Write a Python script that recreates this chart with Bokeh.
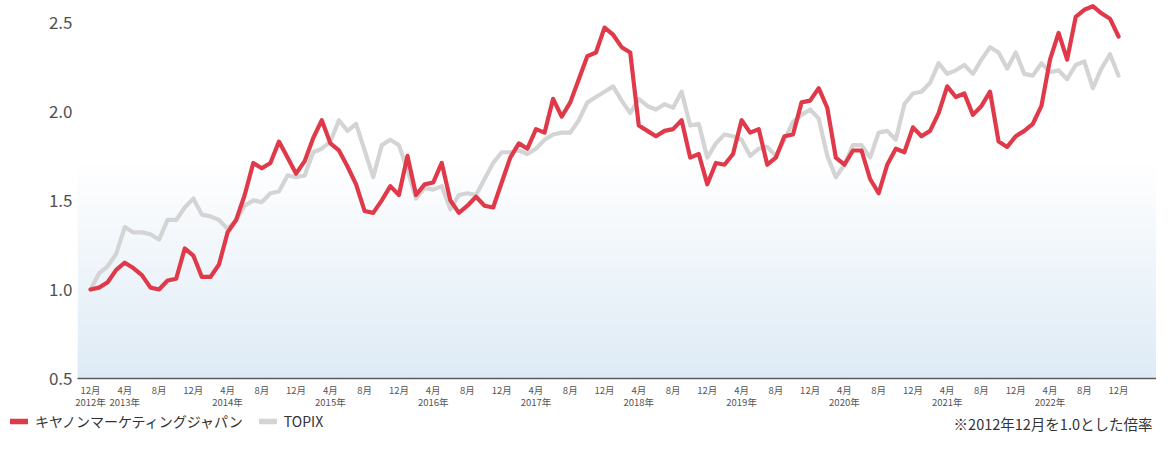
import numpy as np
from bokeh.plotting import figure
from bokeh.layouts import column
from bokeh.models import Range1d, FixedTicker, PrintfTickFormatter, Label, Legend, LegendItem
from bokeh.embed import file_html
from bokeh.resources import INLINE

# ---- data (monthly, Dec 2012 = 1.0) ----
months = list(range(121))  # 0 = 2012-12 ... 120 = 2022-12

canon = [1.00, 1.01, 1.04, 1.11, 1.15, 1.12, 1.08, 1.01, 1.00, 1.05,
         1.06, 1.23, 1.19, 1.07, 1.07, 1.14, 1.32, 1.39, 1.53, 1.71,
         1.68, 1.71, 1.83, 1.74, 1.65, 1.72, 1.85, 1.95, 1.82, 1.78,
         1.69, 1.59, 1.44, 1.43, 1.50, 1.58, 1.53, 1.75, 1.53, 1.59,
         1.60, 1.71, 1.50, 1.43, 1.47, 1.52, 1.47, 1.46, 1.60, 1.74,
         1.82, 1.79, 1.90, 1.88, 2.07, 1.97, 2.05, 2.18, 2.31, 2.33,
         2.47, 2.43, 2.36, 2.33, 1.92, 1.89, 1.86, 1.89, 1.90, 1.95,
         1.74, 1.76, 1.59, 1.71, 1.70, 1.76, 1.95, 1.88, 1.90, 1.70,
         1.74, 1.86, 1.87, 2.05, 2.06, 2.13, 2.02, 1.74, 1.70, 1.78,
         1.78, 1.62, 1.54, 1.70, 1.79, 1.77, 1.91, 1.86, 1.89, 1.99,
         2.14, 2.08, 2.10, 1.98, 2.03, 2.11, 1.83, 1.80, 1.86, 1.89,
         1.93, 2.03, 2.29, 2.44, 2.29, 2.53, 2.57, 2.59, 2.55, 2.52,
         2.42]

topix = [1.00, 1.09, 1.13, 1.20, 1.35, 1.32, 1.32, 1.31, 1.28, 1.39,
         1.39, 1.46, 1.51, 1.42, 1.41, 1.39, 1.34, 1.39, 1.47, 1.50,
         1.49, 1.54, 1.55, 1.64, 1.63, 1.64, 1.77, 1.79, 1.83, 1.95,
         1.89, 1.93, 1.78, 1.63, 1.81, 1.84, 1.81, 1.67, 1.51, 1.57,
         1.56, 1.58, 1.45, 1.53, 1.54, 1.53, 1.62, 1.71, 1.77, 1.77,
         1.78, 1.76, 1.79, 1.84, 1.87, 1.88, 1.88, 1.95, 2.05, 2.08,
         2.11, 2.14, 2.06, 1.99, 2.07, 2.03, 2.01, 2.04, 2.02, 2.11,
         1.92, 1.93, 1.74, 1.82, 1.87, 1.86, 1.84, 1.75, 1.79, 1.80,
         1.75, 1.84, 1.94, 1.98, 2.01, 1.96, 1.75, 1.63, 1.70, 1.81,
         1.81, 1.74, 1.88, 1.89, 1.84, 2.04, 2.10, 2.11, 2.16, 2.27,
         2.21, 2.23, 2.26, 2.21, 2.29, 2.36, 2.33, 2.24, 2.33, 2.21,
         2.20, 2.27, 2.22, 2.23, 2.18, 2.26, 2.28, 2.13, 2.24, 2.32,
         2.20]

tick_months = list(range(0, 121, 4))
tick_labels = ["12月\n2012年", "4月\n2013年", "8月",
               "12月", "4月\n2014年", "8月",
               "12月", "4月\n2015年", "8月",
               "12月", "4月\n2016年", "8月",
               "12月", "4月\n2017年", "8月",
               "12月", "4月\n2018年", "8月",
               "12月", "4月\n2019年", "8月",
               "12月", "4月\n2020年", "8月",
               "12月", "4月\n2021年", "8月",
               "12月", "4月\n2022年", "8月",
               "12月"]
y_ticks = [0.5, 1.0, 1.5, 2.0, 2.5]

series_names = ["キヤノンマーケティングジャパン", "TOPIX"]
note_text = "※2012年12月を1.0とした倍率"

RED = "#e03a4a"
GRAY = "#d4d4d4"
FONT = "Noto Sans CJK JP"

W = 1156
X0, X1 = -1.517, 124.43
Y0, Y1 = 0.5, 2.622

p = figure(width=W, height=412, output_backend="svg", toolbar_location=None,
           x_range=Range1d(X0, X1), y_range=Range1d(Y0, Y1),
           min_border_left=77, min_border_right=0, min_border_top=0,
           min_border_bottom=30, background_fill_color="white",
           border_fill_color="white")
p.frame_align = False
p.outline_line_color = None
p.xgrid.visible = False
p.ygrid.visible = False

# background gradient (white at top -> light blue at bottom)
H = 400
vals = np.linspace(Y0, Y1, H)
t = np.clip((1.70 - vals) / (1.70 - Y0), 0, 1)
top = np.array([255, 255, 255])
bot = np.array([222, 235, 246])
cols = (top[None, :] * (1 - t[:, None]) + bot[None, :] * t[:, None]).astype(np.uint8)
img = np.empty((H, 1), dtype=np.uint32)
view = img.view(dtype=np.uint8).reshape((H, 1, 4))
view[:, 0, 0] = cols[:, 0]
view[:, 0, 1] = cols[:, 1]
view[:, 0, 2] = cols[:, 2]
view[:, 0, 3] = 255
p.image_rgba(image=[img], x=X0, y=Y0, dw=X1 - X0, dh=Y1 - Y0, level="image")

p.line(months, topix, line_color=GRAY, line_width=4.2,
       line_join="round", line_cap="round")
p.line(months, canon, line_color=RED, line_width=4.2,
       line_join="round", line_cap="round")

# y axis
ya = p.yaxis[0]
ya.ticker = FixedTicker(ticks=y_ticks)
ya.formatter = PrintfTickFormatter(format="%.1f")
ya.axis_line_color = None
ya.major_tick_line_color = None
ya.minor_tick_line_color = None
ya.major_tick_out = 0
ya.major_tick_in = 0
ya.major_label_standoff = 5
ya.major_label_text_font = FONT
ya.major_label_text_font_size = "17px"
ya.major_label_text_color = "#505050"

# x axis
xa = p.xaxis[0]
xa.ticker = FixedTicker(ticks=tick_months)
xa.major_label_overrides = {m: lab for m, lab in zip(tick_months, tick_labels)}
xa.axis_line_color = "#5a5a5a"
xa.axis_line_width = 1.5
xa.major_tick_line_color = None
xa.minor_tick_line_color = None
xa.major_tick_out = 0
xa.major_tick_in = 0
xa.major_label_standoff = 4
xa.major_label_text_font = FONT
xa.major_label_text_font_size = "9.5px"
xa.major_label_text_color = "#555555"
xa.major_label_text_line_height = 0.92

# ---- legend row (separate strip below the chart) ----
q = figure(width=W, height=22, output_backend="svg", toolbar_location=None,
           x_range=Range1d(0, 1), y_range=Range1d(-3, -2),
           min_border=0, background_fill_color="white", border_fill_color="white")
q.frame_align = False
q.outline_line_color = None
q.axis.visible = False
q.grid.visible = False
# legend proxies: same series, drawn outside this strip's visible range
lc = q.line(months, canon, line_color=RED, line_width=5.5, line_cap="round")
lt = q.line(months, topix, line_color=GRAY, line_width=5.5, line_cap="round")
legend = Legend(items=[LegendItem(label=series_names[0], renderers=[lc]),
                       LegendItem(label=series_names[1], renderers=[lt])],
                location=(10, 3), orientation="horizontal",
                padding=0, margin=0, spacing=16, glyph_width=18, glyph_height=16,
                label_height=16, label_standoff=7,
                label_text_font=FONT, label_text_font_size="14px",
                label_text_color="#333333",
                border_line_color=None, background_fill_alpha=0)
q.add_layout(legend, "center")
note = Label(x=W - 4, y=11, x_units="screen", y_units="screen", text=note_text,
             text_align="right", text_baseline="middle",
             text_font=FONT, text_font_size="14.5px", text_color="#333333")
q.add_layout(note)

page = column(p, q, spacing=0)
open("out.html", "w").write(file_html(page, INLINE))
